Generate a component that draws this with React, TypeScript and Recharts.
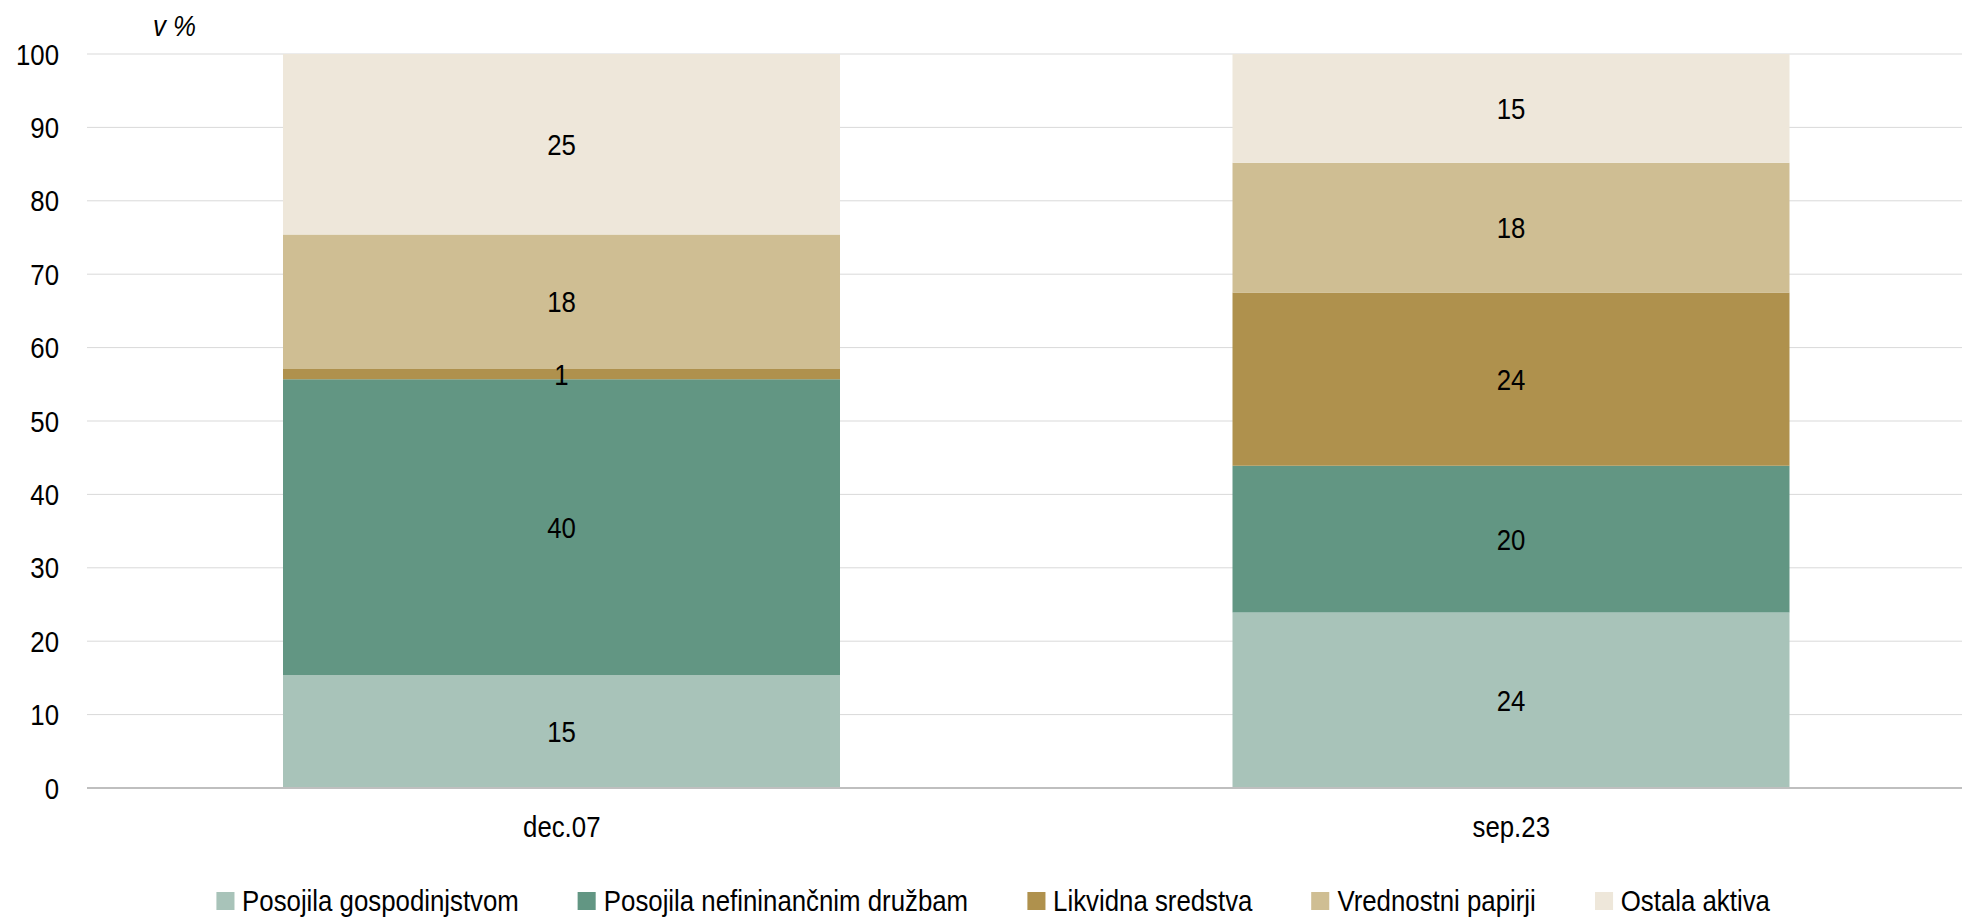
import { BarChart, Bar, XAxis, YAxis, CartesianGrid, Legend, LabelList } from "recharts";

const categories = ["dec.07", "sep.23"];
const posojilaGospodinjstvom = [15.4, 23.9];
const posojilaNefinancnim = [40.3, 20.0];
const likvidnaSredstva = [1.4, 23.6];
const vrednostniPapirji = [18.3, 17.7];
const ostalaAktiva = [24.6, 14.8];
const yTicks = [0, 10, 20, 30, 40, 50, 60, 70, 80, 90, 100];

const series = [
  { key: "gosp", name: "Posojila gospodinjstvom", values: posojilaGospodinjstvom, color: "#A8C3B9" },
  { key: "nefin", name: "Posojila nefininančnim družbam", values: posojilaNefinancnim, color: "#629683" },
  { key: "likv", name: "Likvidna sredstva", values: likvidnaSredstva, color: "#AF914D" },
  { key: "vred", name: "Vrednostni papirji", values: vrednostniPapirji, color: "#CFBE93" },
  { key: "ost", name: "Ostala aktiva", values: ostalaAktiva, color: "#EEE7DA" },
];

const data = categories.map((cat, i) => {
  const row: Record<string, string | number> = { cat };
  series.forEach((s) => (row[s.key] = s.values[i]));
  return row;
});

// no narrow font installed, so squeeze Liberation Sans horizontally
const FONT = "'Liberation Sans', Arial, sans-serif";
const FS = 30;
const SX = 0.86;

function XTick(props: any) {
  const { x, y, payload } = props;
  return (
    <g transform={`translate(${x},${y})`}>
      <text transform={`scale(${SX},1)`} textAnchor="middle" dy="0.71em" fill="#000" fontSize={FS} fontFamily={FONT}>
        {payload.value}
      </text>
    </g>
  );
}

function YTick(props: any) {
  const { x, y, payload } = props;
  return (
    <g transform={`translate(${x},${y})`}>
      <text transform={`scale(${SX},1)`} textAnchor="end" dy="0.355em" fill="#000" fontSize={FS} fontFamily={FONT}>
        {payload.value}
      </text>
    </g>
  );
}

function SegmentLabel(props: any) {
  const { x, y, width, height, value } = props;
  const cx = Number(x) + Number(width) / 2;
  const cy = Number(y) + Number(height) / 2;
  return (
    <g transform={`translate(${cx},${cy})`}>
      <text transform={`scale(${SX},1)`} textAnchor="middle" dy="0.355em" fill="#000" fontSize={FS} fontFamily={FONT}>
        {Math.round(Number(value))}
      </text>
    </g>
  );
}

function LegendContent() {
  return (
    <div
      style={{
        display: "flex",
        justifyContent: "center",
        alignItems: "center",
        height: 44,
        fontFamily: FONT,
        fontSize: FS,
        color: "#000",
        transform: `scaleX(${SX})`,
        transformOrigin: "center",
        whiteSpace: "nowrap",
      }}
    >
      {series.map((s, i) => (
        <div key={s.key} style={{ display: "flex", alignItems: "center", marginRight: i < series.length - 1 ? 59 / SX : 0 }}>
          <span style={{ display: "inline-block", width: 18 / SX, height: 18, background: s.color, marginRight: 8 / SX }} />
          <span>{s.name}</span>
        </div>
      ))}
    </div>
  );
}

export default function App() {
  return (
    <div style={{ position: "fixed", left: 0, top: 0, width: 1962, height: 918, overflow: "hidden", background: "#fff" }}>
      <div
        style={{
          position: "absolute",
          left: 153,
          top: 6,
          fontFamily: FONT,
          fontSize: FS,
          fontStyle: "italic",
          color: "#000",
          lineHeight: "40px",
          transform: `scaleX(${SX})`,
          transformOrigin: "left",
          whiteSpace: "nowrap",
        }}
      >
        v %
      </div>
      <BarChart width={1986} height={918} data={data} margin={{ top: 54, right: 0, left: 0, bottom: 26 }} barSize={557}>
        <CartesianGrid horizontal vertical={false} stroke="#D9D9D9" strokeWidth={1} />
        <XAxis
          dataKey="cat"
          height={60}
          tickLine={false}
          tickSize={0}
          tickMargin={28}
          axisLine={{ stroke: "#BFBFBF", strokeWidth: 2 }}
          tick={<XTick />}
        />
        <YAxis
          width={87}
          domain={[0, 100]}
          ticks={yTicks}
          interval={0}
          axisLine={false}
          tickLine={false}
          tickSize={0}
          tickMargin={28}
          tick={<YTick />}
        />
        <Legend verticalAlign="bottom" height={44} content={<LegendContent />} wrapperStyle={{ bottom: -5 }} />
        {series.map((s) => (
          <Bar key={s.key} dataKey={s.key} name={s.name} stackId="a" fill={s.color} isAnimationActive={false}>
            <LabelList dataKey={s.key} content={<SegmentLabel />} />
          </Bar>
        ))}
      </BarChart>
    </div>
  );
}
